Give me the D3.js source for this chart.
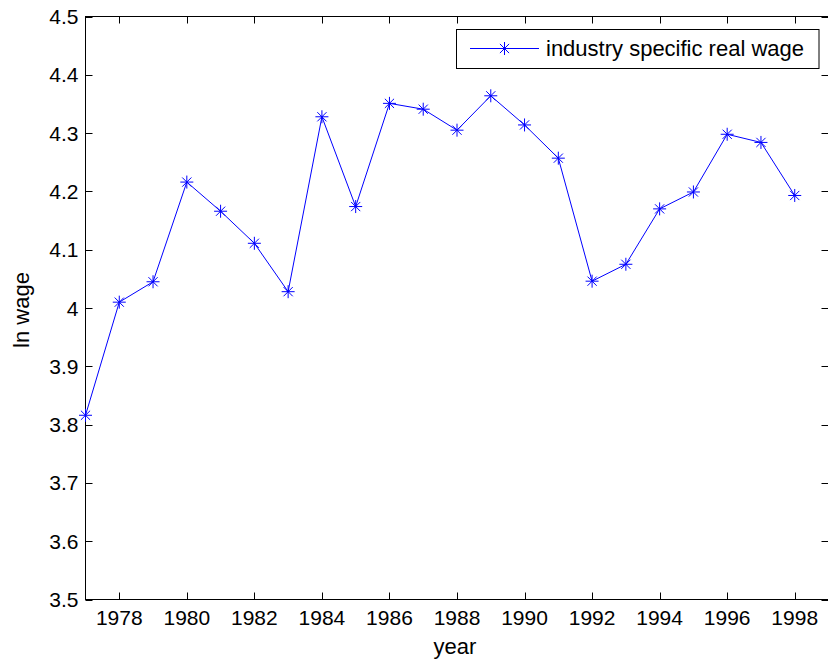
<!DOCTYPE html>
<html><head><meta charset="utf-8">
<script src="https://cdn.jsdelivr.net/npm/d3@7"></script>
<style>body{margin:0;background:#fff}svg{display:block}text{font-family:"Liberation Sans",Arial,sans-serif;fill:#000}</style>
</head><body><svg id="c" width="828" height="666"></svg>
<script>
const years = [1977,1978,1979,1980,1981,1982,1983,1984,1985,1986,1987,1988,1989,1990,1991,1992,1993,1994,1995,1996,1997,1998];
const lnWage = [3.816,4.010,4.045,4.216,4.166,4.111,4.028,4.328,4.174,4.351,4.341,4.305,4.364,4.314,4.257,4.046,4.075,4.170,4.199,4.298,4.284,4.193];
const xTicks = [1978,1980,1982,1984,1986,1988,1990,1992,1994,1996,1998];
const yTicks = [3.5,3.6,3.7,3.8,3.9,4.0,4.1,4.2,4.3,4.4,4.5];
const seriesName = "industry specific real wage";

const svg = d3.select("#c");
const L=85.5, R=828.5, T=16.5, B=599.5;
const x = d3.scaleLinear().domain([1977,1999]).range([L,R]);
const y = d3.scaleLinear().domain([3.5,4.5]).range([B,T]);
const tl = 7;
const fmtY = d => d===4 ? "4" : d3.format(".1f")(d);

const g = svg.append("g");
g.append("rect").attr("x",L).attr("y",T).attr("width",R-L).attr("height",B-T)
 .attr("fill","none").attr("stroke","#000").attr("stroke-width",1);

xTicks.forEach(t=>{
  const xp = Math.round(x(t))+0.5;
  g.append("line").attr("x1",xp).attr("x2",xp).attr("y1",B).attr("y2",B-tl).attr("stroke","#000");
  g.append("line").attr("x1",xp).attr("x2",xp).attr("y1",T).attr("y2",T+tl).attr("stroke","#000");
  g.append("text").attr("x",x(t)).attr("y",625).attr("text-anchor","middle").attr("font-size",21).text(t);
});
yTicks.forEach(t=>{
  const yp = Math.round(y(t))+0.5;
  g.append("line").attr("x1",L).attr("x2",L+tl).attr("y1",yp).attr("y2",yp).attr("stroke","#000");
  g.append("line").attr("x1",R).attr("x2",R-tl).attr("y1",yp).attr("y2",yp).attr("stroke","#000");
  g.append("text").attr("x",78.5).attr("y",y(t)+7.5).attr("text-anchor","end").attr("font-size",21).text(fmtY(t));
});

g.append("text").attr("x",455).attr("y",654).attr("text-anchor","middle").attr("font-size",22).text("year");
g.append("text").attr("transform","translate(28.5,310) rotate(-90)").attr("text-anchor","middle").attr("font-size",22).text("ln wage");

const data = years.map((yr,i)=>({yr, v:lnWage[i]}));
const line = d3.line().x(d=>x(d.yr)).y(d=>y(d.v));
g.append("path").datum(data).attr("d",line).attr("fill","none").attr("stroke","#0000ff").attr("stroke-width",1);

function star(sel, cx, cy){
  const s=6.5, d=4.6;
  const p = `M${cx-s},${cy}L${cx+s},${cy}M${cx},${cy-s}L${cx},${cy+s}M${cx-d},${cy-d}L${cx+d},${cy+d}M${cx-d},${cy+d}L${cx+d},${cy-d}`;
  sel.append("path").attr("d",p).attr("stroke","#0000ff").attr("stroke-width",1).attr("fill","none");
}
data.forEach(d=>star(g, x(d.yr), y(d.v)));

const lg = g.append("g");
lg.append("rect").attr("x",456.5).attr("y",29.5).attr("width",362.5).attr("height",39)
  .attr("fill","#fff").attr("stroke","#000").attr("stroke-width",1);
lg.append("line").attr("x1",470).attr("x2",539).attr("y1",48.5).attr("y2",48.5).attr("stroke","#0000ff");
star(lg, 504.5, 48.5);
lg.append("text").attr("x",546).attr("y",56).attr("font-size",22).text(seriesName);
</script></body></html>
